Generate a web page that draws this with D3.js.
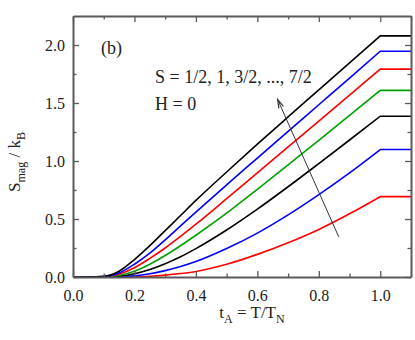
<!DOCTYPE html>
<html><head><meta charset="utf-8">
<script src="https://cdn.jsdelivr.net/npm/d3@7/dist/d3.min.js"></script>
<style>
html,body{margin:0;padding:0;background:#fff;}
svg{display:block;}
text{font-family:"Liberation Serif","Times New Roman",serif;fill:#222;}
</style></head>
<body>
<svg id="c" width="415" height="340"></svg>
<script>
const tVals = [0, 0.05, 0.1, 0.15, 0.2, 0.25, 0.3, 0.35, 0.4, 0.5, 0.6, 0.7, 0.8, 0.9, 1.0, 1.1];
const spinLabels = ["1/2", "1", "3/2", "2", "5/2", "3", "7/2"];
const s_1_2 = [0, 0, 0, 0, 0.001, 0.006, 0.016, 0.03, 0.048, 0.11, 0.195, 0.295, 0.41, 0.545, 0.693, 0.693];
const s_1   = [0, 0, 0, 0.002, 0.01, 0.028, 0.055, 0.09, 0.133, 0.245, 0.378, 0.535, 0.71, 0.898, 1.099, 1.099];
const s_3_2 = [0, 0, 0, 0.007, 0.028, 0.065, 0.115, 0.175, 0.245, 0.405, 0.585, 0.778, 0.978, 1.181, 1.386, 1.386];
const s_2   = [0, 0, 0, 0.015, 0.05, 0.11, 0.185, 0.27, 0.36, 0.55, 0.756, 0.967, 1.178, 1.393, 1.609, 1.609];
const s_5_2 = [0, 0, 0.002, 0.025, 0.08, 0.16, 0.25, 0.35, 0.455, 0.675, 0.898, 1.121, 1.344, 1.568, 1.792, 1.792];
const s_3   = [0, 0, 0.003, 0.035, 0.11, 0.205, 0.32, 0.44, 0.56, 0.795, 1.025, 1.255, 1.485, 1.715, 1.946, 1.946];
const s_7_2 = [0, 0, 0.005, 0.05, 0.15, 0.27, 0.40, 0.53, 0.66, 0.905, 1.145, 1.38, 1.613, 1.846, 2.079, 2.079];
const seriesValues = [s_1_2, s_1, s_3_2, s_2, s_5_2, s_3, s_7_2];
const seriesColors = ["#ff0000", "#0000ff", "#000000", "#00a000", "#ff0000", "#0000ff", "#000000"];
const xTicks = [0.0, 0.2, 0.4, 0.6, 0.8, 1.0];
const yTicks = [0.0, 0.5, 1.0, 1.5, 2.0];
const arrowFrom = [0.865, 0.345];
const arrowTo = [0.666, 1.53];

const svg = d3.select("#c");
const L = 73, R = 411, T = 16, B = 277;
const x = d3.scaleLinear().domain([0, 1.1]).range([L, R]);
const y = d3.scaleLinear().domain([0, 2.25]).range([B, T]);
const axisCol = "#5a5a5a";

// curves: smooth rise up to T_N, then a straight plateau (sharp corner at t = 1)
const smooth = d3.line().x(d => x(d[0])).y(d => y(d[1])).curve(d3.curveMonotoneX);
const straight = d3.line().x(d => x(d[0])).y(d => y(d[1]));
seriesValues.forEach((vals, i) => {
  const pts = tVals.map((t, j) => [t, vals[j]]);
  const rise = pts.filter(p => p[0] <= 1.0 + 1e-9);
  const flat = pts.filter(p => p[0] >= 1.0 - 1e-9);
  svg.append("path").attr("d", smooth(rise) + straight(flat).replace(/^M/, "L"))
    .attr("fill", "none")
    .attr("stroke", seriesColors[i])
    .attr("stroke-width", 1.6)
    .attr("stroke-linejoin", "miter");
});

// axes with inward ticks
const xMinor = d3.range(0, 1.11, 0.1).filter(v => Math.abs(Math.round(v * 10) % 2) === 1);
const yMinor = d3.range(0.25, 2.25, 0.5);
function styleAxis(g) {
  g.selectAll("path.domain").attr("stroke", axisCol).attr("stroke-width", 2);
  g.selectAll(".tick line").attr("stroke", axisCol).attr("stroke-width", 1.3);
  g.selectAll(".tick text").style("font-size", "16px").style("font-family", '"Liberation Serif", serif').attr("fill", "#222");
}
const gb = svg.append("g").attr("transform", `translate(0,${B})`)
  .call(d3.axisBottom(x).tickValues(xTicks).tickFormat(d3.format(".1f")).tickSizeInner(-6).tickSizeOuter(0).tickPadding(13));
styleAxis(gb);
const gbm = svg.append("g").attr("transform", `translate(0,${B})`)
  .call(d3.axisBottom(x).tickValues(xMinor).tickFormat("").tickSizeInner(-3.5).tickSizeOuter(0));
styleAxis(gbm); gbm.select("path.domain").remove();
const gt = svg.append("g").attr("transform", `translate(0,${T})`)
  .call(d3.axisTop(x).tickValues(xTicks).tickFormat("").tickSizeInner(-6).tickSizeOuter(0));
styleAxis(gt);
const gtm = svg.append("g").attr("transform", `translate(0,${T})`)
  .call(d3.axisTop(x).tickValues(xMinor).tickFormat("").tickSizeInner(-3.5).tickSizeOuter(0));
styleAxis(gtm); gtm.select("path.domain").remove();
const gl = svg.append("g").attr("transform", `translate(${L},0)`)
  .call(d3.axisLeft(y).tickValues(yTicks).tickFormat(d3.format(".1f")).tickSizeInner(-6).tickSizeOuter(0).tickPadding(8));
styleAxis(gl);
const glm = svg.append("g").attr("transform", `translate(${L},0)`)
  .call(d3.axisLeft(y).tickValues(yMinor).tickFormat("").tickSizeInner(-3.5).tickSizeOuter(0));
styleAxis(glm); glm.select("path.domain").remove();
const gr = svg.append("g").attr("transform", `translate(${R},0)`)
  .call(d3.axisRight(y).tickValues(yTicks).tickFormat("").tickSizeInner(-6).tickSizeOuter(0));
styleAxis(gr);
const grm = svg.append("g").attr("transform", `translate(${R},0)`)
  .call(d3.axisRight(y).tickValues(yMinor).tickFormat("").tickSizeInner(-3.5).tickSizeOuter(0));
styleAxis(grm); grm.select("path.domain").remove();

// arrow
const ax1 = x(arrowFrom[0]), ay1 = y(arrowFrom[1]), ax2 = x(arrowTo[0]), ay2 = y(arrowTo[1]);
svg.append("line").attr("x1", ax1).attr("y1", ay1).attr("x2", ax2).attr("y2", ay2)
  .attr("stroke", "#333").attr("stroke-width", 1);
const ang = Math.atan2(ay2 - ay1, ax2 - ax1);
const hl = 9, hw = 0.28;
const p1 = [ax2 - hl * Math.cos(ang - hw), ay2 - hl * Math.sin(ang - hw)];
const p2 = [ax2 - hl * Math.cos(ang + hw), ay2 - hl * Math.sin(ang + hw)];
svg.append("path").attr("d", `M${p1[0]},${p1[1]}L${ax2},${ay2}L${p2[0]},${p2[1]}`)
  .attr("fill", "none").attr("stroke", "#333").attr("stroke-width", 1.2);

// annotations
svg.append("text").attr("x", 101).attr("y", 54).style("font-size", "18px").text("(b)");
svg.append("text").attr("x", 155).attr("y", 83).style("font-size", "18px")
  .text("S = " + spinLabels.slice(0, 3).join(", ") + ", ..., " + spinLabels[6]);
svg.append("text").attr("x", 155).attr("y", 110).style("font-size", "18px").text("H = 0");

// x label
const xl = svg.append("text").attr("x", 252).attr("y", 318).attr("text-anchor", "middle").style("font-size", "17px");
xl.append("tspan").text("t");
xl.append("tspan").attr("dy", 5).style("font-size", "12px").text("A");
xl.append("tspan").attr("dy", -5).text(" = T/T");
xl.append("tspan").attr("dy", 5).style("font-size", "12px").text("N");

// y label
const yl = svg.append("text").attr("transform", "translate(20,162) rotate(-90)").attr("text-anchor", "middle").style("font-size", "17px");
yl.append("tspan").text("S");
yl.append("tspan").attr("dy", 5).style("font-size", "12px").text("mag");
yl.append("tspan").attr("dy", -5).text(" / k");
yl.append("tspan").attr("dy", 5).style("font-size", "12px").text("B");
</script>
</body></html>
